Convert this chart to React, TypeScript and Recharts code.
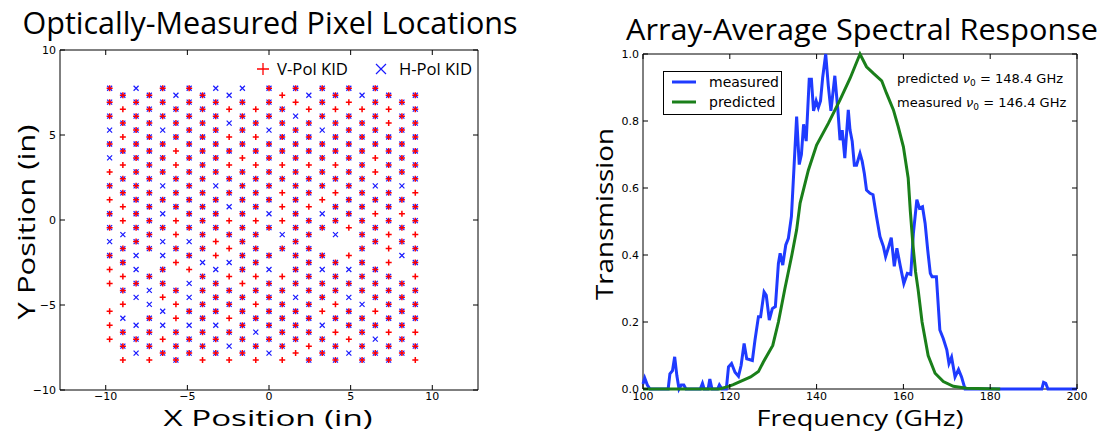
import React from 'react';
import { ScatterChart, Scatter, LineChart, Line, XAxis, YAxis, ReferenceArea, Legend } from 'recharts';

// ---- left panel: pixel grid (inches) ----
const colX = [-9.76, -8.95, -8.14, -7.33, -6.51, -5.7, -4.89, -4.07, -3.26, -2.44, -1.63, -0.81, 0, 0.81, 1.63, 2.44, 3.26, 4.07, 4.89, 5.7, 6.51, 7.33, 8.14, 8.96];
const rowsA = [7.75, 6.93, 6.11, 5.29, 4.47, 3.65, 2.83, 2.01, 1.19, 0.37, -0.45, -1.27, -2.09, -2.91, -3.73, -4.55, -5.37, -6.19, -7.01, -7.83];
const rowsB = [7.34, 6.52, 5.7, 4.88, 4.06, 3.24, 2.42, 1.6, 0.78, -0.04, -0.86, -1.68, -2.5, -3.32, -4.14, -4.96, -5.78, -6.6, -7.42, -8.24];
// b = both, r = V-Pol only, x = H-Pol only, . = empty (top to bottom)
const colMasks = [
  'bbbxbxrbrbbxbrr.rrr.',
  'brbrbrbbrrxbbrbrxbbr',
  'xbbbbbbbbbbbxxbx.xbx',
  'bbbbbbbbbbbb.bxxbbbr',
  'bbbxbbbxbxbxxbbrxxrb',
  'xbbbrrbbbrrbr.brrbbb',
  'bbbbbbbbbbbxbrxxbxbb',
  'bbbbbbbbbbbbxbbbbbbr',
  'xbbbbbbxbbbrrxbbbxbb',
  'xrxrbrbbxrbrxrbbrbxr',
  'xbbbbrbbbbbbbbrbbbbb',
  '.rbrbrbbbrbbbrbrbxbr',
  'bbbxbbbbbxb.bxbbbbbx',
  'rbbbbrbrrrxb.rbbbbbr',
  'brxbbbbbbbbbbbbxbbbr',
  'xrbbbrbbrbbbbbbbbbrb',
  'bbbxbbbbrxb.bxbbrxbb',
  'brbbbrbrbbx.bbbrbrbb',
  'brbbbbbbbbr.rxbxbbrx',
  'xrbbbbbbbbbbbbbxbbbb',
  'bbbbbrrxbrbb.bbbrbxb',
  'brrbbbbbbbrrrbbbbrbb',
  '.bbbbbbxbrbbx.bbbbbb',
  'bbbbbbbrbbrbbrbbbrbr',
];
const xTicksL = [-10, -5, 0, 5, 10];
const yTicksL = [-10, -5, 0, 5, 10];

const vPol: { x: number; y: number }[] = [];
const hPol: { x: number; y: number }[] = [];
colMasks.forEach((m, i) => {
  const rows = i % 2 === 0 ? rowsA : rowsB;
  m.split('').forEach((c, k) => {
    if (c === 'b' || c === 'r') vPol.push({ x: colX[i], y: rows[k] });
    if (c === 'b' || c === 'x') hPol.push({ x: colX[i], y: rows[k] });
  });
});

// ---- right panel: spectral response ----
const measuredF = [100, 100.4, 101, 101.6, 105.8, 106.2, 106.8, 107.3, 107.8, 108.3, 108.8, 109.4, 109.9, 113.2, 113.7, 114.1, 115, 115.4, 115.9, 117.2, 117.6, 118.2, 119.2, 119.7, 120.4, 121.2, 122, 122.6, 123.3, 123.9, 124.5, 125.2, 125.8, 126.6, 127.1, 127.9, 128.4, 129.1, 129.8, 130.5, 131.2, 131.6, 132.2, 132.9, 133.5, 134.2, 134.8, 135.4, 136, 136.5, 137, 137.6, 138.3, 138.8, 139.3, 139.9, 140.4, 140.9, 141.4, 142.1, 142.7, 143.3, 144.2, 144.9, 145.4, 145.9, 146.5, 147.3, 147.7, 148.2, 148.7, 149.2, 150, 150.5, 151, 151.5, 152.3, 153, 153.8, 154.6, 155.4, 155.9, 156.5, 157.2, 157.9, 158.5, 159.3, 160.1, 160.9, 161.7, 162.3, 163.1, 163.7, 164.4, 165, 165.6, 166.2, 166.6, 167.6, 168.4, 169.2, 170, 170.5, 171.1, 171.9, 172.7, 173.4, 174.2, 191.9, 192.3, 192.8, 193.3, 200];
const measuredT = [0.015, 0.033, 0.012, 0, 0, 0.045, 0.055, 0.096, 0.04, 0, 0.012, 0.012, 0, 0, 0.017, 0, 0, 0.03, 0, 0, 0.012, 0, 0, 0.066, 0.076, 0.05, 0.038, 0.07, 0.136, 0.09, 0.088, 0.085, 0.146, 0.216, 0.216, 0.29, 0.28, 0.206, 0.24, 0.246, 0.375, 0.405, 0.37, 0.43, 0.45, 0.515, 0.663, 0.813, 0.67, 0.7, 0.79, 0.74, 0.925, 0.925, 0.83, 0.86, 0.84, 0.86, 0.93, 1.0, 0.905, 0.83, 0.935, 0.833, 0.743, 0.773, 0.689, 0.833, 0.773, 0.74, 0.668, 0.668, 0.703, 0.68, 0.643, 0.594, 0.584, 0.58, 0.515, 0.455, 0.425, 0.395, 0.42, 0.452, 0.366, 0.42, 0.366, 0.315, 0.345, 0.342, 0.465, 0.565, 0.54, 0.544, 0.495, 0.415, 0.345, 0.335, 0.335, 0.176, 0.15, 0.117, 0.076, 0.095, 0.036, 0.058, 0.036, 0, 0, 0.02, 0.017, 0, 0];
const predictedF = [100, 117.7, 119.7, 120.8, 124.8, 126.6, 127.7, 129.9, 131.2, 132.7, 134.3, 135.4, 136.2, 138.1, 140, 142.7, 145.4, 147.7, 150, 151.5, 153.1, 155, 156.1, 157.7, 158.8, 160, 161.1, 161.6, 162.2, 162.8, 163.4, 164.3, 165.7, 167.3, 169.2, 171.5, 174.6, 182.3];
const predictedT = [0, 0, 0.008, 0.013, 0.036, 0.052, 0.08, 0.13, 0.2, 0.3, 0.4, 0.475, 0.555, 0.653, 0.728, 0.793, 0.863, 0.927, 1.0, 0.962, 0.942, 0.92, 0.883, 0.833, 0.783, 0.723, 0.63, 0.53, 0.43, 0.35, 0.296, 0.2, 0.1, 0.047, 0.022, 0.008, 0.002, 0];
const xTicksR = [100, 120, 140, 160, 180, 200];
const yTicksR = [0, 0.2, 0.4, 0.6, 0.8, 1.0];

const measured = measuredF.map((f, i) => ({ f, t: measuredT[i] }));
const predicted = predictedF.map((f, i) => ({ f, t: predictedT[i] }));

const tickFont = 'DejaVu Sans, sans-serif';
const labelFont = 'Open Sans, sans-serif';
const minus = (v: number) => (v < 0 ? '\u2212' + Math.abs(v) : String(v));

// inward ticks on both sides, labels outside (matplotlib look)
const xTick = (plotH: number, dy: number, fmt: (v: number) => string) => (p: any) => (
  <g>
    <line x1={p.x} x2={p.x} y1={p.y} y2={p.y - 5} stroke="#000" />
    <line x1={p.x} x2={p.x} y1={p.y - plotH} y2={p.y - plotH + 5} stroke="#000" />
    <text x={p.x} y={p.y + dy} textAnchor="middle" fontFamily={tickFont} fontSize={11} fill="#000">
      {fmt(p.payload.value)}
    </text>
  </g>
);
const yTick = (plotW: number, fmt: (v: number) => string) => (p: any) => (
  <g>
    <line x1={p.x} x2={p.x + 5} y1={p.y} y2={p.y} stroke="#000" />
    <line x1={p.x + plotW} x2={p.x + plotW - 5} y1={p.y} y2={p.y} stroke="#000" />
    <text x={p.x - 4} y={p.y + 4} textAnchor="end" fontFamily={tickFont} fontSize={11} fill="#000">
      {fmt(p.payload.value)}
    </text>
  </g>
);

const Plus = (p: any) => (
  <path d={`M${p.cx - 3},${p.cy}h6M${p.cx},${p.cy - 3}v6`} stroke="#ff0000" strokeWidth={1.5} fill="none" />
);
const Cross = (p: any) => (
  <path d={`M${p.cx - 2.5},${p.cy - 2.5}l5,5M${p.cx - 2.5},${p.cy + 2.5}l5,-5`} stroke="#1a1aff" strokeWidth={1.2} fill="none" />
);

const ScatterLegend = () => (
  <svg width={230} height={26}>
    <path d="M7,13h12M13,7v12" stroke="#ff0000" strokeWidth={1.3} />
    <text x={27} y={19} fontFamily={labelFont} fontSize={16} textLength={71} lengthAdjust="spacingAndGlyphs">V-Pol KID</text>
    <path d="M126,8l10,10M126,18l10,-10" stroke="#1a1aff" strokeWidth={1.2} />
    <text x={149} y={19} fontFamily={labelFont} fontSize={16} textLength={73} lengthAdjust="spacingAndGlyphs">H-Pol KID</text>
  </svg>
);

const LineLegend = () => (
  <svg width={120} height={45}>
    <rect x={0.5} y={0.5} width={118} height={43} fill="#fff" stroke="#000" />
    <line x1={9} x2={33} y1={11} y2={11} stroke="#1f3bff" strokeWidth={3} />
    <text x={46} y={16} fontFamily={tickFont} fontSize={14}>measured</text>
    <line x1={9} x2={33} y1={31} y2={31} stroke="#1a7f1a" strokeWidth={3} />
    <text x={46} y={36} fontFamily={tickFont} fontSize={14}>predicted</text>
  </svg>
);

export default function App() {
  return (
    <div style={{ position: 'absolute', left: 0, top: 0, width: 1111, height: 433, background: '#fff' }}>
      <div style={{ position: 'absolute', left: 0, top: 0 }}>
        <ScatterChart width={500} height={433} margin={{ top: 50, right: 22, bottom: 0, left: 0 }}>
          <XAxis type="number" dataKey="x" domain={[-12.8, 12.8]} ticks={xTicksL} allowDataOverflow interval={0}
            height={43} axisLine={false} tickLine={false} tickSize={0} tickMargin={0} tick={xTick(340, 10, minus)} />
          <YAxis type="number" dataKey="y" domain={[-10, 10]} ticks={yTicksL} allowDataOverflow interval={0}
            width={60} axisLine={false} tickLine={false} tickSize={0} tickMargin={0} tick={yTick(418, minus)} />
          <ReferenceArea x1={-12.8} x2={12.8} y1={-10} y2={10} fill="none" stroke="#000" strokeWidth={1} />
          <Scatter name="H-Pol KID" data={hPol} shape={Cross} isAnimationActive={false} />
          <Scatter name="V-Pol KID" data={vPol} shape={Plus} isAnimationActive={false} />
          <Legend layout="vertical" align="center" verticalAlign="middle" content={ScatterLegend}
            wrapperStyle={{ left: 250, top: 56, width: 230, height: 26 }} />
        </ScatterChart>
      </div>
      <div style={{ position: 'absolute', left: 560, top: 0 }}>
        <LineChart width={551} height={433} margin={{ top: 54, right: 34, bottom: 0, left: 0 }}>
          <XAxis type="number" dataKey="f" domain={[100, 200]} ticks={xTicksR} interval={0}
            height={44} axisLine={false} tickLine={false} tickSize={0} tickMargin={0} tick={xTick(335, 11, String)} />
          <YAxis type="number" domain={[0, 1]} ticks={yTicksR} interval={0}
            width={83} axisLine={false} tickLine={false} tickSize={0} tickMargin={0} tick={yTick(434, (v) => v.toFixed(1))} />
          <ReferenceArea x1={100} x2={200} y1={0} y2={1} fill="none" stroke="#000" strokeWidth={1} />
          <Line data={measured} dataKey="t" type="linear" stroke="#1f3bff" strokeWidth={3} dot={false} isAnimationActive={false} />
          <Line data={predicted} dataKey="t" type="linear" stroke="#1a7f1a" strokeWidth={3} dot={false} isAnimationActive={false} />
          <Legend layout="vertical" align="center" verticalAlign="middle" content={LineLegend}
            wrapperStyle={{ left: 103, top: 71, width: 120, height: 45 }} />
        </LineChart>
      </div>
      <svg width={1111} height={433} style={{ position: 'absolute', left: 0, top: 0, pointerEvents: 'none' }}>
        <text x={270} y={34} textAnchor="middle" fontFamily={labelFont} fontSize={31} textLength={495} lengthAdjust="spacingAndGlyphs">Optically-Measured Pixel Locations</text>
        <text x={862} y={40} textAnchor="middle" fontFamily={labelFont} fontSize={29} textLength={472} lengthAdjust="spacingAndGlyphs">Array-Average Spectral Response</text>
        <text x={268} y={426} textAnchor="middle" fontFamily={labelFont} fontSize={21} textLength={209} lengthAdjust="spacingAndGlyphs">X Position (in)</text>
        <text x={860} y={426} textAnchor="middle" fontFamily={labelFont} fontSize={21} textLength={207} lengthAdjust="spacingAndGlyphs">Frequency (GHz)</text>
        <text transform="translate(35,222) rotate(-90)" textAnchor="middle" fontFamily={labelFont} fontSize={23} textLength={195} lengthAdjust="spacingAndGlyphs">Y Position (in)</text>
        <text transform="translate(613,214) rotate(-90)" textAnchor="middle" fontFamily={labelFont} fontSize={23} textLength={172} lengthAdjust="spacingAndGlyphs">Transmission</text>
        <text x={897} y={83} fontFamily={tickFont} fontSize={13}>
          predicted <tspan fontStyle="italic">ν</tspan><tspan fontSize={9} dy={3}>0</tspan><tspan dy={-3}> = 148.4 GHz</tspan>
        </text>
        <text x={897} y={107} fontFamily={tickFont} fontSize={13}>
          measured <tspan fontStyle="italic">ν</tspan><tspan fontSize={9} dy={3}>0</tspan><tspan dy={-3}> = 146.4 GHz</tspan>
        </text>
      </svg>
    </div>
  );
}
